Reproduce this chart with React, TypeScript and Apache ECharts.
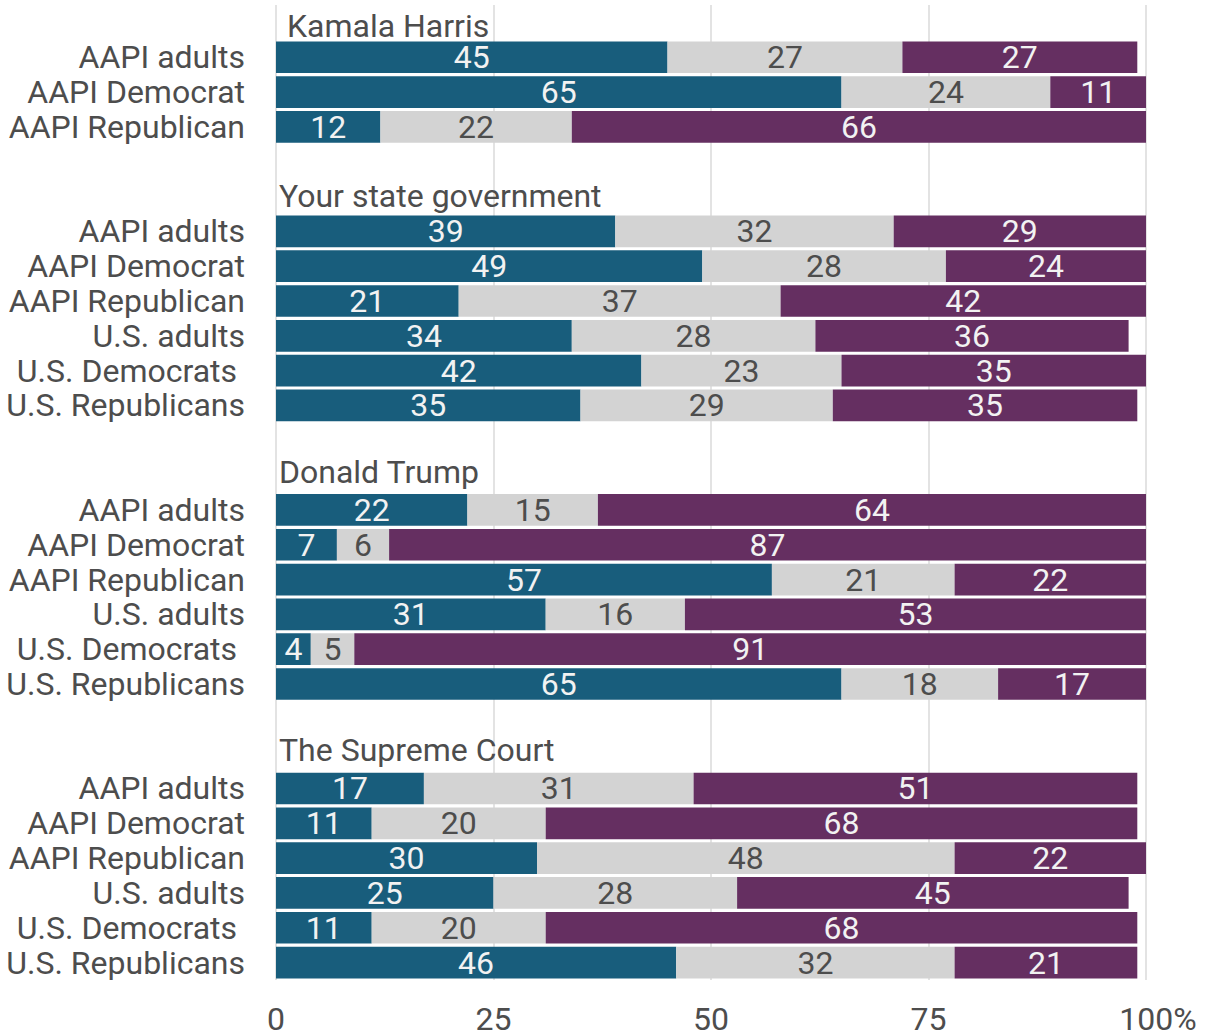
import React, { useEffect, useRef } from "react";
import * as echarts from "echarts";

const groupTitles = ["\u00a0Kamala Harris", "Your state government", "Donald Trump", "The Supreme Court"];

const groupRows: string[][] = [
  ["AAPI adults", "AAPI Democrat", "AAPI Republican"],
  ["AAPI adults", "AAPI Democrat", "AAPI Republican", "U.S. adults", "U.S. Democrats\u00a0", "U.S. Republicans"],
  ["AAPI adults", "AAPI Democrat", "AAPI Republican", "U.S. adults", "U.S. Democrats\u00a0", "U.S. Republicans"],
  ["AAPI adults", "AAPI Democrat", "AAPI Republican", "U.S. adults", "U.S. Democrats\u00a0", "U.S. Republicans"],
];

const favorable: number[][] = [
  [45, 65, 12],
  [39, 49, 21, 34, 42, 35],
  [22, 7, 57, 31, 4, 65],
  [17, 11, 30, 25, 11, 46],
];

const neutral: number[][] = [
  [27, 24, 22],
  [32, 28, 37, 28, 23, 29],
  [15, 6, 21, 16, 5, 18],
  [31, 20, 48, 28, 20, 32],
];

const unfavorable: number[][] = [
  [27, 11, 66],
  [29, 24, 42, 36, 35, 35],
  [64, 87, 22, 53, 91, 17],
  [51, 68, 22, 45, 68, 21],
];

const xTicks = [0, 25, 50, 75, 100];

// vertical nudge (px) of each group title label
const titleNudge = [4, -1, -3, -4];

const COLORS = { fav: "#185d7c", neu: "#d3d3d3", unf: "#652f61" };
const TEXT = "#4d4d4d";
const FONT = "Roboto";
const FS = 32;
const LH = 28;

type Row = { key: string; label: string; title: string | null; tg: number; g: number; i: number };

function buildRows(): Row[] {
  const rows: Row[] = [];
  groupTitles.forEach((t, g) => {
    if (g > 0) rows.push({ key: `gap${g}`, label: "", title: null, tg: -1, g: -1, i: -1 });
    rows.push({ key: `title${g}`, label: "", title: t, tg: g, g: -1, i: -1 });
    groupRows[g].forEach((lab, i) => {
      rows.push({ key: `r${g}_${i}`, label: lab, title: null, tg: -1, g, i });
    });
  });
  return rows;
}

export default function App() {
  const ref = useRef<HTMLDivElement>(null);
  useEffect(() => {
    if (!ref.current) return;
    const chart = echarts.init(ref.current, undefined, { renderer: "svg" });
    const rows = buildRows();
    const pick = (arr: number[][]) => rows.map((r) => (r.g >= 0 ? arr[r.g][r.i] : "-"));
    const labelStyle = (color: string) => ({
      show: true,
      position: "inside" as const,
      color,
      fontFamily: FONT,
      fontSize: FS,
      lineHeight: LH,
    });
    const option: any = {
      animation: false,
      grid: { left: 276, right: 61, top: 5, bottom: 56, containLabel: false },
      xAxis: {
        type: "value",
        min: 0,
        max: 100,
        interval: 25,
        axisLine: { show: false },
        axisTick: { show: false },
        splitLine: { show: true, lineStyle: { color: "#e3e3e3", width: 2 } },
        axisLabel: {
          margin: 25,
          color: TEXT,
          fontFamily: FONT,
          fontSize: FS,
          lineHeight: LH,
          formatter: (v: number) => (v === xTicks[xTicks.length - 1] ? `{p|${v}%}` : `${v}`),
          rich: {
            p: { padding: [0, 0, 0, 24], color: TEXT, fontFamily: FONT, fontSize: FS, lineHeight: LH },
          },
        },
      },
      yAxis: {
        type: "category",
        inverse: true,
        data: rows.map((r) => r.key),
        axisLine: { show: false },
        axisTick: { show: false },
        splitLine: { show: false },
        axisLabel: {
          interval: 0,
          margin: 31,
          color: TEXT,
          fontFamily: FONT,
          fontSize: FS,
          lineHeight: LH,
          formatter: (_v: string, idx: number) => rows[idx].label,
        },
      },
      series: [
        {
          name: "title",
          type: "bar",
          stack: "total",
          barCategoryGap: "9%",
          data: rows.map((r) =>
            r.title ? { value: 0, label: { offset: [0, titleNudge[r.tg]] } } : "-"
          ),
          itemStyle: { color: "transparent" },
          label: {
            show: true,
            position: "right",
            distance: 3,
            color: TEXT,
            fontFamily: FONT,
            fontSize: FS,
            lineHeight: LH,
            formatter: (p: any) => rows[p.dataIndex].title || "",
          },
          silent: true,
        },
        {
          name: "Favorable",
          type: "bar",
          stack: "total",
          barCategoryGap: "9%",
          clip: true,
          data: pick(favorable),
          itemStyle: { color: COLORS.fav },
          label: labelStyle("#f2f2f2"),
        },
        {
          name: "Neutral",
          type: "bar",
          stack: "total",
          barCategoryGap: "9%",
          clip: true,
          data: pick(neutral),
          itemStyle: { color: COLORS.neu },
          label: labelStyle(TEXT),
        },
        {
          name: "Unfavorable",
          type: "bar",
          stack: "total",
          barCategoryGap: "9%",
          clip: true,
          data: pick(unfavorable),
          itemStyle: { color: COLORS.unf },
          label: labelStyle("#f2f2f2"),
        },
      ],
    };
    chart.setOption(option);
    return () => chart.dispose();
  }, []);
  return (
    <div
      ref={ref}
      style={{ position: "fixed", left: 0, top: 0, width: 1207, height: 1036, background: "#ffffff" }}
    />
  );
}
